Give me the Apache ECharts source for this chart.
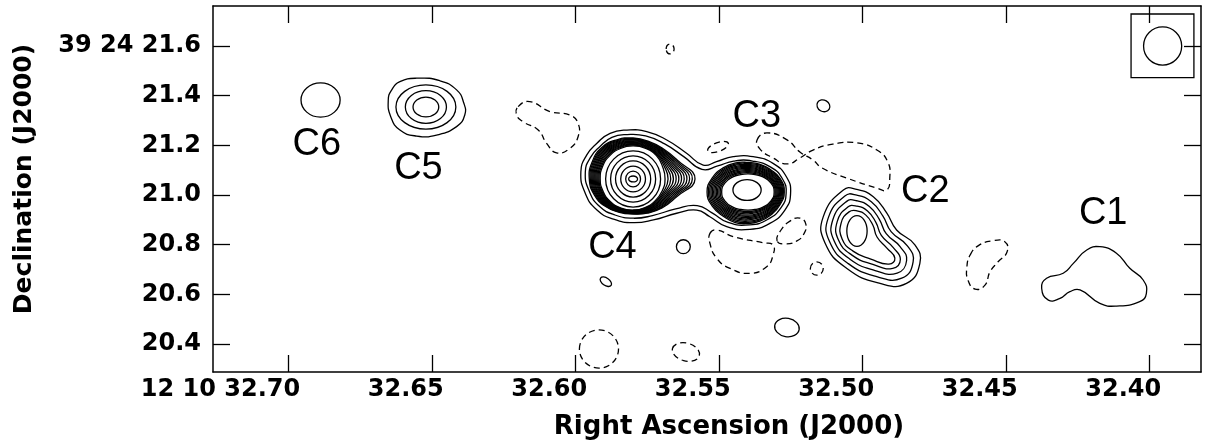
<!DOCTYPE html>
<html>
<head>
<meta charset="utf-8">
<title>C1-C6 radio map</title>
<script src="https://cdn.jsdelivr.net/npm/echarts@6/dist/echarts.min.js"></script>
<style>
  html, body { margin: 0; padding: 0; background: #fff; }
  #main { width: 1208px; height: 444px; }
</style>
</head>
<body>
<div id="main"></div>
<script>
// ---- axes (RA in seconds of 12h10m, Dec in arcsec of +39d24m) ----
const raRange = [32.38213, 32.72638];
const decRange = [20.28707, 21.76110];
const raTicks = [32.70, 32.65, 32.60, 32.55, 32.50, 32.45, 32.40];
const raTickLabels = ['12 10 32.70', '32.65', '32.60', '32.55', '32.50', '32.45', '32.40'];
const decTicks = [21.6, 21.4, 21.2, 21.0, 20.8, 20.6, 20.4];
const decTickLabels = ['39 24 21.6', '21.4', '21.2', '21.0', '20.8', '20.6', '20.4'];
const raLabelNudge = 0.004; // labels sit a bit off their ticks in the original

// ---- component labels ----
const compNames = ['C1', 'C2', 'C3', 'C4', 'C5', 'C6'];
const compLabelPos = [[32.4162, 20.9262], [32.4782, 21.0152], [32.5369, 21.3153],
                      [32.5872, 20.7885], [32.6548, 21.1074], [32.6902, 21.2041]];

// ---- positive contours (offsets in mas, x = west/right, y = north) ----
const c6Ring = [32.6889, 21.3825, 79, 69, 0];

const c5Center = [32.6522, 21.3543];
const c5Outer = [[-152, 28], [-138, 69], [-105, 102], [-37, 116], [56, 106], [124, 69], [153, 16],
                 [157, -32], [124, -79], [43, -113], [-37, -117], [-105, -93], [-142, -39]];
const c5Rings = [[121, 89], [83, 66], [52, 40]];

const c4Center = [32.5800, 21.0644];
const bridgeOuter = [[-211, 29], [-187, 97], [-146, 144], [-93, 184], [-25, 197], [55, 191], [136, 157],
                     [216, 104], [283, 56], [337, 70], [404, 90], [485, 90], [565, 63], [619, 9],
                     [636, -58], [613, -125], [552, -179], [472, -203], [378, -192], [310, -152],
                     [257, -125], [176, -138], [82, -165], [1, -176], [-79, -162], [-146, -125], [-193, -58]];
const bridgeInsets = [0, 18];
// radii every 22.5 deg, counter-clockwise from west
const c4BandOuter = [250, 195, 172, 164, 165, 171, 179, 179, 177, 169, 157, 145, 141, 149, 165, 189];
const c4BandInner = [129, 129, 133, 133, 133, 133, 133, 133, 133, 131, 129, 127, 125, 125, 125, 127];
const c4Rings = [[111, 113], [91, 93], [71, 73], [50, 52], [30, 32], [18, 12]];

const c3Center = [32.5400, 21.0120];
const c3BandOuter = [147, 141, 128, 122, 119, 127, 139, 154, 165, 154, 139, 133, 127, 127, 131, 139];
const c3BandInner = [106, 99, 86, 76, 73, 76, 86, 99, 106, 99, 86, 76, 73, 76, 86, 99];
const c3Core = [32.5403, 21.0200, 57, 42];
const bandSteps = [0, 0.09, 0.18, 0.27, 0.36, 0.45, 0.54, 0.63, 0.72, 0.81, 0.9, 1];

const c2Center = [32.5020, 20.8549];
const c2Outer = [[-55, 165], [-136, 58], [-129, -48], [-42, -150], [93, -211], [200, -211],
                 [254, -130], [234, -56], [160, 4], [120, 73], [66, 138], [-1, 168]];
const c2Inner = [[-32, 77], [-64, 32], [-60, -32], [-16, -81], [56, -113], [129, -133],
                 [153, -109], [121, -69], [81, -24], [64, 24], [36, 64], [0, 81]];
const c2Steps = [0, 0.27, 0.53, 0.78, 1];
const c2Core = [41, 62];

const c1Center = [32.4191, 20.6576];
const c1Outline = [[-215, -33], [-195, 7], [-128, 27], [-87, 67], [-33, 121], [20, 134], [87, 108],
                   [141, 47], [195, 0], [208, -54], [181, -87], [87, -105], [20, -94], [-60, -40],
                   [-101, -47], [-141, -74], [-188, -81]];

// small positive blobs: ra, dec, a, b (mas), angle (deg)
const knots = [[32.5137, 21.3592, 27, 23, -30], [32.5625, 20.7917, 28, 28, 0],
               [32.5895, 20.6507, 26, 15, -35], [32.5264, 20.4663, 50, 37, -10]];

// ---- negative (dashed) contours ----
const negBlobs = [[32.5671, 21.5879, 16, 20, 0], [32.5504, 21.1932, 44, 18, 20],
                  [32.5160, 20.7039, 26, 27, 0], [32.5919, 20.3797, 79, 77, 0],
                  [32.5616, 20.3676, 56, 36, -15]];
const negD1Center = [32.6097, 21.2738];
const negD1 = [[-120, 82], [-73, 102], [8, 62], [89, 48], [122, 15], [122, -39], [89, -86],
               [35, -104], [-5, -66], [-39, -12], [-100, 21], [-126, 48]];
const negD4Center = [32.5149, 21.1409];
const negD4 = [[-254, 81], [-214, 109], [-133, 81], [-81, 32], [-28, 0], [8, -32], [109, -73],
               [230, -113], [270, -121], [282, -73], [274, -8], [230, 40], [149, 69], [52, 64],
               [-28, 40], [-81, 8], [-133, -16], [-189, 8], [-242, 44]];
const negD5Center = [32.5421, 20.7784];
const negD5 = [[-129, 67], [-102, 81], [-35, 54], [86, 29], [126, 20], [126, -20], [100, -67],
               [32, -94], [-48, -74], [-102, -33], [-129, 27]];
const negD6Center = [32.5250, 20.8549];
const negD6 = [[-56, -40], [-40, 4], [-4, 40], [36, 52], [60, 28], [52, -12], [24, -40], [-20, -52]];
const negD8Center = [32.4574, 20.7220];
const negD8 = [[-60, 36], [-28, 73], [28, 93], [81, 89], [89, 48], [52, 8], [20, -32], [0, -85],
               [-40, -101], [-69, -64], [-73, -12]];

// ---- beam ----
const beamCircle = [32.3955, 21.6000, 77, 77, 0];
const beamBox = [[32.4065, 21.7289], [32.3846, 21.4723]];

// ================================================================
const RA_ARCSEC = 15 * Math.cos(39.4 * Math.PI / 180); // arcsec per RA second at this Dec

function toSky(center, dx, dy) {
    return [center[0] - dx / 1000 / RA_ARCSEC, center[1] + dy / 1000];
}

function polarPts(outer, inner, t) {
    const n = outer.length;
    return outer.map(function (r0, k) {
        const r = r0 + (inner[k] - r0) * t;
        const th = 2 * Math.PI * k / n;
        return [r * Math.cos(th), r * Math.sin(th)];
    });
}

function blendPts(outer, inner, t) {
    return outer.map(function (p, k) {
        return [p[0] + (inner[k][0] - p[0]) * t, p[1] + (inner[k][1] - p[1]) * t];
    });
}

function insetPts(pts, d) {
    const n = pts.length;
    let area = 0;
    for (let i = 0; i < n; i++) {
        const a = pts[i], b = pts[(i + 1) % n];
        area += a[0] * b[1] - b[0] * a[1];
    }
    return pts.map(function (p, i) {
        const a = pts[(i - 1 + n) % n], b = pts[(i + 1) % n];
        let tx = b[0] - a[0], ty = b[1] - a[1];
        const len = Math.hypot(tx, ty);
        tx /= len; ty /= len;
        const nx = area > 0 ? -ty : ty, ny = area > 0 ? tx : -tx;
        return [p[0] + nx * d, p[1] + ny * d];
    });
}

const shapes = [];
function addPoly(center, pts, dash) {
    shapes.push({ kind: 'poly', pts: pts.map(function (p) { return toSky(center, p[0], p[1]); }), dash: dash });
}
function addEll(e, dash) {
    shapes.push({ kind: 'ell', c: [e[0], e[1]], a: e[2], b: e[3], ang: e[4] || 0, dash: dash });
}

// positive contours
addEll(c6Ring, false);
addPoly(c5Center, c5Outer, false);
c5Rings.forEach(function (r) { addEll([c5Center[0], c5Center[1], r[0], r[1], 0], false); });
bridgeInsets.forEach(function (d) { addPoly(c4Center, insetPts(bridgeOuter, d), false); });
bandSteps.forEach(function (t) { addPoly(c4Center, polarPts(c4BandOuter, c4BandInner, t), false); });
c4Rings.forEach(function (r) { addEll([c4Center[0], c4Center[1], r[0], r[1], 0], false); });
bandSteps.forEach(function (t) { addPoly(c3Center, polarPts(c3BandOuter, c3BandInner, t), false); });
addEll(c3Core, false);
c2Steps.forEach(function (t) { addPoly(c2Center, blendPts(c2Outer, c2Inner, t), false); });
addEll([c2Center[0], c2Center[1], c2Core[0], c2Core[1], 0], false);
addPoly(c1Center, c1Outline, false);
knots.forEach(function (k) { addEll(k, false); });

// negative contours
negBlobs.forEach(function (k) { addEll(k, true); });
addPoly(negD1Center, negD1, true);
addPoly(negD4Center, negD4, true);
addPoly(negD5Center, negD5, true);
addPoly(negD6Center, negD6, true);
addPoly(negD8Center, negD8, true);

// beam
addEll(beamCircle, false);
shapes.push({ kind: 'box', pts: beamBox });

// labels
compNames.forEach(function (name, i) { shapes.push({ kind: 'text', c: compLabelPos[i], text: name }); });

function anchorOf(s) {
    if (s.kind === 'poly' || s.kind === 'box') return s.pts[0];
    return s.c;
}

function renderItem(params, api) {
    const s = shapes[params.dataIndex];
    const style = { fill: 'none', stroke: '#000', lineWidth: 1.3, lineDash: s.dash ? [6, 4] : null };
    if (s.kind === 'poly') {
        return { type: 'polygon', shape: { points: s.pts.map(function (p) { return api.coord(p); }), smooth: 0.5 }, style: style };
    }
    if (s.kind === 'ell') {
        const c = api.coord(s.c);
        const sz = api.size([s.a / 1000 / RA_ARCSEC, s.b / 1000], s.c);
        return {
            type: 'ellipse', x: c[0], y: c[1], rotation: s.ang * Math.PI / 180,
            shape: { cx: 0, cy: 0, rx: sz[0], ry: sz[1] }, style: style
        };
    }
    if (s.kind === 'box') {
        const p1 = api.coord(s.pts[0]), p2 = api.coord(s.pts[1]);
        return {
            type: 'rect',
            shape: { x: Math.min(p1[0], p2[0]), y: Math.min(p1[1], p2[1]), width: Math.abs(p2[0] - p1[0]), height: Math.abs(p2[1] - p1[1]) },
            style: { fill: 'none', stroke: '#000', lineWidth: 1.3 }
        };
    }
    const c = api.coord(s.c);
    return {
        type: 'text', x: c[0], y: c[1],
        style: { text: s.text, fill: '#000', fontSize: 38, fontFamily: 'Liberation Sans, Arial, sans-serif', align: 'center', verticalAlign: 'middle' }
    };
}

const tickFont = { fontFamily: 'DejaVu Sans', fontWeight: 'bold', fontSize: 24, color: '#000' };
const frame = { show: true, onZero: false, lineStyle: { color: '#000', width: 1.5 } };

let option = {
    animation: false,
    grid: { left: 213, right: 7, top: 6, bottom: 72 },
    xAxis: [
        {
            type: 'value', position: 'bottom', inverse: true, min: raRange[0], max: raRange[1],
            axisLine: frame,
            axisTick: { show: true, inside: true, length: 17, customValues: raTicks, lineStyle: { color: '#000', width: 1.3 } },
            axisLabel: Object.assign({
                show: true, margin: 6, align: 'right',
                customValues: raTicks.map(function (t) { return t - raLabelNudge; }),
                formatter: function (v) {
                    const i = raTicks.findIndex(function (t) { return Math.abs(t - raLabelNudge - v) < 1e-6; });
                    return i >= 0 ? raTickLabels[i] : '';
                }
            }, tickFont),
            splitLine: { show: false }
        },
        {
            type: 'value', position: 'top', inverse: true, min: raRange[0], max: raRange[1],
            axisLine: frame,
            axisTick: { show: true, inside: true, length: 17, customValues: raTicks, lineStyle: { color: '#000', width: 1.3 } },
            axisLabel: { show: false },
            splitLine: { show: false }
        }
    ],
    yAxis: [
        {
            type: 'value', position: 'left', min: decRange[0], max: decRange[1],
            axisLine: frame,
            axisTick: { show: true, inside: true, length: 17, customValues: decTicks, lineStyle: { color: '#000', width: 1.3 } },
            axisLabel: Object.assign({
                show: true, margin: 12,
                customValues: decTicks,
                formatter: function (v) {
                    const i = decTicks.findIndex(function (t) { return Math.abs(t - v) < 1e-6; });
                    return i >= 0 ? decTickLabels[i] : '';
                }
            }, tickFont),
            splitLine: { show: false }
        },
        {
            type: 'value', position: 'right', min: decRange[0], max: decRange[1],
            axisLine: frame,
            axisTick: { show: true, inside: true, length: 17, customValues: decTicks, lineStyle: { color: '#000', width: 1.3 } },
            axisLabel: { show: false },
            splitLine: { show: false }
        }
    ],
    graphic: [
        {
            type: 'text', x: 729, y: 427,
            style: { text: 'Right Ascension (J2000)', fontFamily: 'DejaVu Sans', fontWeight: 'bold', fontSize: 26, fill: '#000', align: 'center', verticalAlign: 'middle' }
        },
        {
            type: 'text', x: 24, y: 179, rotation: Math.PI / 2,
            style: { text: 'Declination (J2000)', fontFamily: 'DejaVu Sans', fontWeight: 'bold', fontSize: 25, fill: '#000', align: 'center', verticalAlign: 'middle' }
        }
    ],
    series: [
        {
            name: 'contours', type: 'custom', coordinateSystem: 'cartesian2d',
            xAxisIndex: 0, yAxisIndex: 0, silent: true,
            renderItem: renderItem,
            encode: { x: 0, y: 1 },
            data: shapes.map(function (s, i) { const a = anchorOf(s); return [a[0], a[1], i]; })
        }
    ]
};

var myChart = echarts.init(document.getElementById('main'));
myChart.setOption(option);
</script>
</body>
</html>
